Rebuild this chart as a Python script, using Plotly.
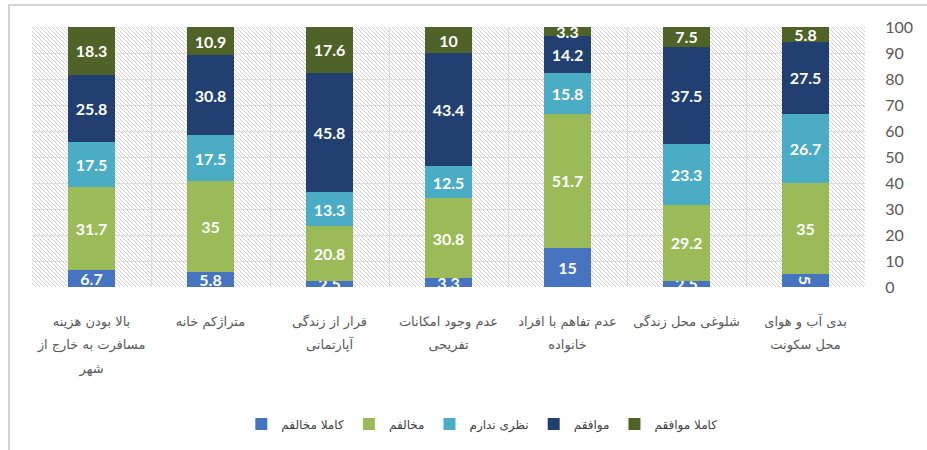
import base64
import plotly.graph_objects as go

categories = [
    "بالا بودن هزینه<br>مسافرت به خارج از<br>شهر",
    "متراژکم خانه",
    "فرار از زندگی<br>آپارتمانی",
    "عدم وجود امکانات<br>تفریحی",
    "عدم تفاهم با افراد<br>خانواده",
    "شلوغی محل زندگی",
    "بدی آب و هوای<br>محل سکونت",
]

series_names = ["کاملا مخالفم", "مخالفم", "نظری ندارم", "موافقم", "کاملا موافقم"]
fully_disagree = [6.7, 5.8, 2.5, 3.3, 15, 2.5, 5]
disagree = [31.7, 35, 20.8, 30.8, 51.7, 29.2, 35]
no_opinion = [17.5, 17.5, 13.3, 12.5, 15.8, 23.3, 26.7]
agree = [25.8, 30.8, 45.8, 43.4, 14.2, 37.5, 27.5]
fully_agree = [18.3, 10.9, 17.6, 10, 3.3, 7.5, 5.8]
colors = ["#4674c1", "#9bbb59", "#4bacc6", "#213f71", "#4f6228"]

y_ticks = [0, 10, 20, 30, 40, 50, 60, 70, 80, 90, 100]

W, H = 927, 450
ML, MR, MT, MB = 32, 62, 27, 163
PW, PH = W - ML - MR, H - MT - MB

# hatched background for plot area
svg = (
    f'<svg xmlns="http://www.w3.org/2000/svg" width="{PW}" height="{PH}">'
    '<defs><pattern id="h" patternUnits="userSpaceOnUse" width="4" height="4">'
    '<path d="M-1,-1 l2,2 M0,0 l4,4 M3,3 l2,2" stroke="#d2d2d2" stroke-width="1"/>'
    '</pattern></defs>'
    f'<rect width="{PW}" height="{PH}" fill="white"/>'
    f'<rect width="{PW}" height="{PH}" fill="url(#h)"/></svg>'
)
svg_uri = "data:image/svg+xml;base64," + base64.b64encode(svg.encode()).decode()

# tick text: small glyphs with tall line spacing
tick_text = [
    "<br>".join(f'<span style="font-size:13px">{part}</span>' for part in c.split("<br>"))
    for c in categories
]

fig = go.Figure()
for name, vals, col in zip(series_names,
                           [fully_disagree, disagree, no_opinion, agree, fully_agree],
                           colors):
    fig.add_trace(go.Bar(
        x=categories, y=vals, name=name,
        marker=dict(color=col, line=dict(width=0)),
        texttemplate="%{y}", textposition="inside", insidetextanchor="middle",
        textfont=dict(family="Lato", size=16, color="white", weight="bold"),
        cliponaxis=True,
    ))

fig.update_layout(
    width=W, height=H,
    margin=dict(l=ML, r=MR, t=MT, b=MB, autoexpand=False),
    barmode="stack", bargap=0.6,
    paper_bgcolor="white", plot_bgcolor="rgba(0,0,0,0)",
    uniformtext=dict(minsize=16, mode="show"),
    showlegend=True,
    legend=dict(orientation="h", x=0.54, xanchor="center", y=-0.527, yanchor="middle",
                font=dict(family="DejaVu Sans", size=12, color="#404040"),
                traceorder="normal", itemwidth=30),
    images=[dict(source=svg_uri, xref="paper", yref="paper", x=0, y=1,
                 sizex=1, sizey=1, sizing="stretch", layer="below",
                 xanchor="left", yanchor="top")],
    shapes=[
        dict(type="rect", xref="paper", yref="paper", layer="above",
             x0=(9 - ML) / PW, x1=(940 - ML) / PW, y0=(-10 - MB) / PH, y1=(H - 5 - MB) / PH,
             line=dict(color="#c8c8c8", width=1.5), fillcolor="rgba(0,0,0,0)"),
    ],
)
fig.update_xaxes(
    type="category", tickson="boundaries", showgrid=True, gridcolor="#dcdcdc", gridwidth=1,
    tickvals=categories, ticktext=tick_text, tickangle=0,
    ticks="", ticklabelstandoff=20,
    tickfont=dict(family="DejaVu Sans", size=18, color="#595959"),
    showline=False, zeroline=False, automargin=False,
)
fig.update_yaxes(
    side="right", range=[0, 100], tickvals=y_ticks,
    showgrid=True, gridcolor="#dcdcdc", gridwidth=1,
    ticks="outside", ticklen=16, tickcolor="rgba(0,0,0,0)",
    tickfont=dict(family="Lato", size=16, color="#595959"),
    zeroline=False, showline=False, automargin=False,
)

fig.write_html("out.html", config={"displayModeBar": False},
               post_script="document.body.style.margin='0px';")
